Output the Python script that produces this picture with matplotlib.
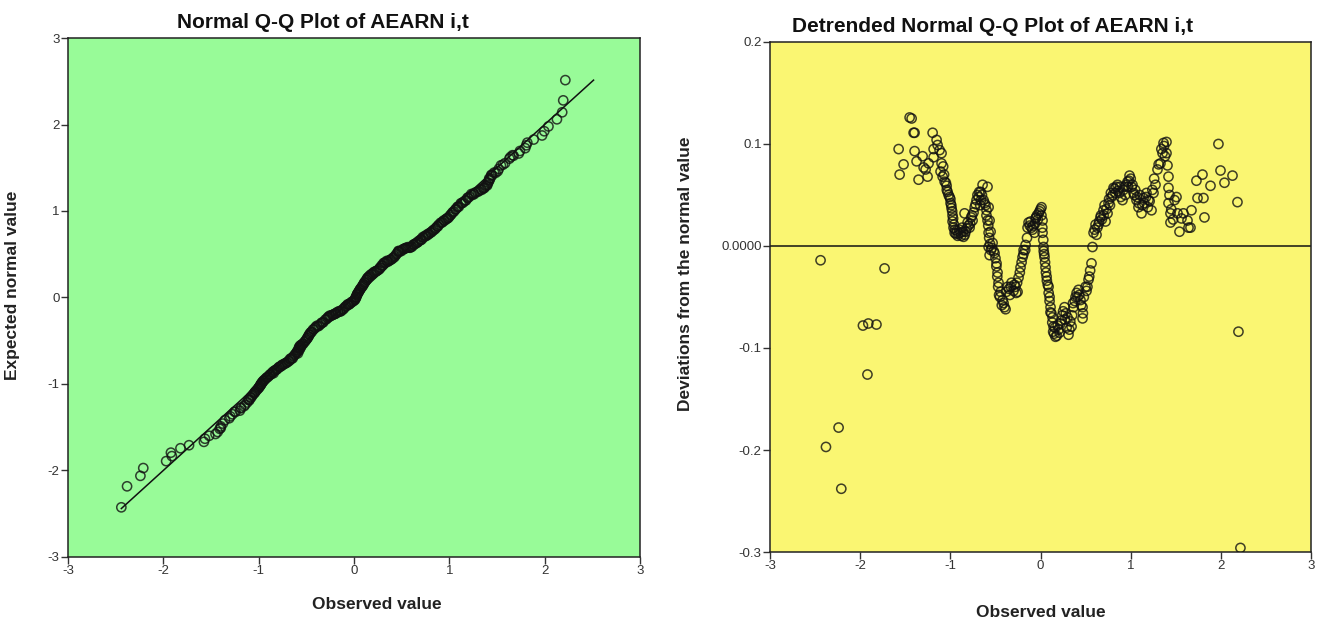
import numpy as np
import matplotlib
matplotlib.use("Agg")
import matplotlib.pyplot as plt

plt.rcParams["font.family"] = ["Liberation Sans", "DejaVu Sans"]
plt.rcParams["axes.unicode_minus"] = False

# observed value of AEARN i,t and its deviation from the normal value
# (read off the detrended plot; the Q-Q plot uses the same cases)
observed = [
    -2.44, -2.38, -2.24, -2.21, -1.97, -1.92, -1.91, -1.82, -1.73,
    -1.574, -1.563, -1.519, -1.452, -1.430, -1.408, -1.397, -1.397, -1.375,
    -1.353, -1.308, -1.297, -1.275, -1.253, -1.242, -1.197, -1.186, -1.186,
    -1.153, -1.142, -1.120, -1.098, -1.098, -1.109, -1.086, -1.064, -1.042,
    -1.031, -1.009, -0.998, -0.987, -0.976, -0.976, -0.965, -0.953, -0.920,
    -0.887, -0.854, -0.843, -0.831, -0.809, -0.787, -0.754, -0.743, -0.710,
    -0.687, -0.665, -0.643, -0.632, -0.599, -0.588, -0.588, -0.576, -0.576,
    -0.565, -0.576, -0.565, -0.554, -0.532, -0.510, -0.488, -0.477, -0.466,
    -0.443, -0.421, -0.388, -0.366, -0.322, -0.277, -0.255, -0.244, -0.222,
    -0.200, -0.188, -0.166, -0.144, -0.133, -0.089, -0.067, -0.055, -0.022,
    0.011, 0.022, 0.022, 0.033, 0.044, 0.055, 0.067, 0.089, 0.100,
    0.111, 0.133, 0.144, 0.166, 0.200, 0.233, 0.266, 0.299, 0.310,
    0.344, 0.366, 0.388, 0.421, 0.443, 0.466, 0.466, 0.499, 0.532,
    0.565, 0.576, 0.588, 0.610, 0.621, 0.643, 0.665, 0.698, 0.721,
    0.743, 0.754, 0.787, 0.809, 0.854, 0.876, 0.909, 0.920, 0.965,
    0.987, 1.020, 1.031, 1.064, 1.086, 1.120, 1.142, 1.175, 1.197,
    1.231, 1.253, 1.275, 1.297, 1.330, 1.353, 1.364, 1.397, 1.397,
    1.408, 1.419, 1.419, 1.419, 1.441, 1.441, 1.486, 1.508, 1.519,
    1.541, 1.563, 1.585, 1.630, 1.641, 1.663, 1.674, 1.729, 1.741,
    1.796, 1.807, 1.818, 1.885, 1.973, 1.996, 2.040, 2.129, 2.184,
    2.195, 2.217,
    # dense part of the band
    -1.08, -1.07, -1.05, -1.04, -1.02, -1.00, -0.99, -0.98, -0.97, -0.96, -0.95, -0.94,
    -0.93, -0.91, -0.90, -0.88, -0.87, -0.86, -0.84, -0.82, -0.80, -0.78, -0.77, -0.76,
    -0.73, -0.72, -0.70, -0.68, -0.67, -0.66, -0.65, -0.62, -0.61, -0.60,
    -0.58, -0.57, -0.56, -0.55, -0.54, -0.52, -0.50, -0.49, -0.48, -0.47, -0.46, -0.45,
    -0.43, -0.41, -0.40,
    -0.38, -0.35, -0.34, -0.33, -0.30, -0.29, -0.27, -0.26, -0.23, -0.21, -0.19, -0.17,
    -0.15,
    -0.12, -0.11, -0.10, -0.08, -0.06, -0.05, -0.04, -0.03, -0.01, 0.00, 0.01,
    0.02, 0.03, 0.035, 0.04, 0.05, 0.06, 0.07, 0.08, 0.09, 0.10, 0.11, 0.12,
    0.13, 0.14, 0.15, 0.16,
    0.18, 0.19, 0.21, 0.22, 0.24, 0.25, 0.27, 0.28, 0.29, 0.32, 0.33, 0.35,
    0.36, 0.38, 0.40, 0.41, 0.43, 0.45, 0.47, 0.48, 0.51, 0.52, 0.54, 0.55,
    0.60, 0.63, 0.65, 0.67, 0.68, 0.70, 0.71, 0.73, 0.76, 0.77, 0.78, 0.80,
    0.82, 0.83, 0.84, 0.86, 0.88, 0.89, 0.93, 0.94, 0.95, 0.97, 0.98, 1.00,
    1.01, 1.04, 1.05, 1.07, 1.09, 1.10, 1.13, 1.15, 1.17, 1.19, 1.21, 1.24,
    1.26, 1.31, 1.34, 1.37, 1.38, 1.43, 1.45, 1.47,
]
deviation = [
    -0.014, -0.197, -0.178, -0.238, -0.078, -0.126, -0.076, -0.077, -0.022,
    0.095, 0.070, 0.080, 0.126, 0.125, 0.111, 0.111, 0.093, 0.083,
    0.065, 0.088, 0.077, 0.075, 0.068, 0.081, 0.111, 0.095, 0.087,
    0.104, 0.099, 0.094, 0.091, 0.081, 0.073, 0.068, 0.063, 0.059,
    0.053, 0.048, 0.042, 0.037, 0.030, 0.024, 0.018, 0.013, 0.010,
    0.013, 0.009, 0.032, 0.014, 0.023, 0.018, 0.025, 0.033, 0.045,
    0.048, 0.053, 0.060, 0.045, 0.035, 0.058, 0.025, 0.038, 0.013,
    0.025, -0.001, -0.009, 0.014, 0.003, -0.007, -0.017, -0.026, -0.036,
    -0.045, -0.053, -0.062, -0.040, -0.036, -0.040, -0.045, -0.031, -0.021,
    -0.011, -0.004, 0.001, 0.018, 0.023, 0.016, 0.013, 0.027, 0.032,
    0.038, 0.025, 0.013, -0.001, -0.011, -0.021, -0.030, -0.040, -0.050,
    -0.060, -0.070, -0.079, -0.089, -0.082, -0.073, -0.060, -0.070, -0.087,
    -0.079, -0.060, -0.050, -0.043, -0.053, -0.060, -0.071, -0.040, -0.033,
    -0.017, -0.001, 0.013, 0.021, 0.011, 0.021, 0.028, 0.035, 0.024,
    0.032, 0.042, 0.048, 0.057, 0.060, 0.052, 0.045, 0.055, 0.063,
    0.069, 0.060, 0.052, 0.045, 0.038, 0.032, 0.047, 0.052, 0.045,
    0.035, 0.052, 0.060, 0.075, 0.081, 0.091, 0.101, 0.102, 0.091,
    0.079, 0.068, 0.057, 0.042, 0.032, 0.023, 0.045, 0.048, 0.032,
    0.014, 0.027, 0.032, 0.025, 0.018, 0.018, 0.035, 0.064, 0.047,
    0.070, 0.047, 0.028, 0.059, 0.100, 0.074, 0.062, 0.069, 0.043,
    -0.084, -0.296,
    # dense part of the band
    0.078, 0.070, 0.062, 0.055, 0.050, 0.046, 0.040, 0.034, 0.027, 0.021, 0.016, 0.012,
    0.015, 0.012, 0.016, 0.010, 0.018, 0.014, 0.011, 0.017, 0.020, 0.022, 0.028, 0.030,
    0.038, 0.041, 0.050, 0.053, 0.040, 0.045, 0.050, 0.042, 0.040, 0.030,
    0.020, 0.008, 0.002, -0.004, -0.002, -0.005, -0.012, -0.020, -0.030, -0.040, -0.048, -0.050,
    -0.058, -0.056, -0.060,
    -0.045, -0.042, -0.048, -0.040, -0.044, -0.038, -0.046, -0.036, -0.026, -0.016, -0.008, -0.004,
    0.008,
    0.020, 0.024, 0.018, 0.020, 0.022, 0.028, 0.030, 0.026, 0.034, 0.036, 0.030,
    0.018, 0.006, -0.005, -0.008, -0.016, -0.026, -0.034, -0.038, -0.046, -0.054, -0.065, -0.066,
    -0.075, -0.084, -0.086, -0.080,
    -0.088, -0.078, -0.085, -0.076, -0.068, -0.064, -0.072, -0.066, -0.080, -0.082, -0.074, -0.068,
    -0.056, -0.054, -0.046, -0.050, -0.048, -0.058, -0.066, -0.050, -0.044, -0.040, -0.030, -0.024,
    0.016, 0.018, 0.024, 0.030, 0.026, 0.030, 0.040, 0.036, 0.046, 0.040, 0.052, 0.050,
    0.056, 0.052, 0.058, 0.054, 0.058, 0.048, 0.058, 0.050, 0.060, 0.058, 0.064, 0.066,
    0.058, 0.050, 0.055, 0.048, 0.042, 0.050, 0.040, 0.042, 0.048, 0.038, 0.044, 0.055,
    0.066, 0.080, 0.095, 0.098, 0.088, 0.050, 0.036, 0.026,
]

x_ticks = [-3, -2, -1, 0, 1, 2, 3]
qq_y_ticks = [-3, -2, -1, 0, 1, 2, 3]
dev_y_ticks = [-0.3, -0.2, -0.1, 0.0, 0.1, 0.2]
dev_y_labels = ["-0.3", "-0.2", "-0.1", "0.0000", "0.1", "0.2"]

obs = np.array(observed)
dev = np.array(deviation)
expected = obs - dev

fig = plt.figure(figsize=(13.22, 6.21), dpi=100)
ax1 = fig.add_axes([0.0514, 0.1031, 0.4327, 0.8357])
ax2 = fig.add_axes([0.5825, 0.1111, 0.4092, 0.8213])

marker_style = dict(s=44, facecolors="none", edgecolors="#111111",
                    linewidths=1.1, alpha=0.8, zorder=3)
label_style = dict(fontsize=12.5, fontweight="bold", color="#222222")

# left: normal Q-Q plot
ax1.set_facecolor("#98FB98")
lo = min(obs.min(), expected.min())
hi = max(obs.max(), expected.max())
ax1.plot([lo, hi], [lo, hi], color="#111111", lw=1.1, zorder=2)
ax1.scatter(obs, expected, **marker_style)
ax1.set_xlim(-3, 3)
ax1.set_ylim(-3, 3)
ax1.set_xticks(x_ticks)
ax1.set_yticks(qq_y_ticks)
ax1.set_xlabel("Observed value", **label_style)
ax1.set_ylabel("Expected normal value", **label_style)
ax1.xaxis.set_label_coords(0.54, -0.077)
ax1.yaxis.set_label_coords(-0.083, 0.524)

# right: detrended normal Q-Q plot
ax2.set_facecolor("#FAF672")
ax2.axhline(0, color="#111111", lw=1.1, zorder=2)
ax2.scatter(obs, dev, **marker_style)
ax2.set_xlim(-3, 3)
ax2.set_ylim(-0.3, 0.2)
ax2.set_xticks(x_ticks)
ax2.set_yticks(dev_y_ticks)
ax2.set_yticklabels(dev_y_labels)
ax2.set_xlabel("Observed value", **label_style)
ax2.set_ylabel("Deviations from the normal value", **label_style)
ax2.xaxis.set_label_coords(0.5, -0.103)
ax2.yaxis.set_label_coords(-0.142, 0.545)

for ax in (ax1, ax2):
    for sp in ax.spines.values():
        sp.set_color("#222222")
        sp.set_linewidth(1.1)
    ax.tick_params(direction="out", length=5, width=1, color="#333333",
                   labelsize=9.5, labelcolor="#333333", pad=1)

fig.text(0.244, 0.964, "Normal Q-Q Plot of AEARN i,t", ha="center", va="center",
         fontsize=15, fontweight="bold", color="#111111")
fig.text(0.751, 0.958, "Detrended Normal Q-Q Plot of AEARN i,t", ha="center",
         va="center", fontsize=15, fontweight="bold", color="#111111")

fig.savefig("out.png", dpi=100, facecolor="white")
